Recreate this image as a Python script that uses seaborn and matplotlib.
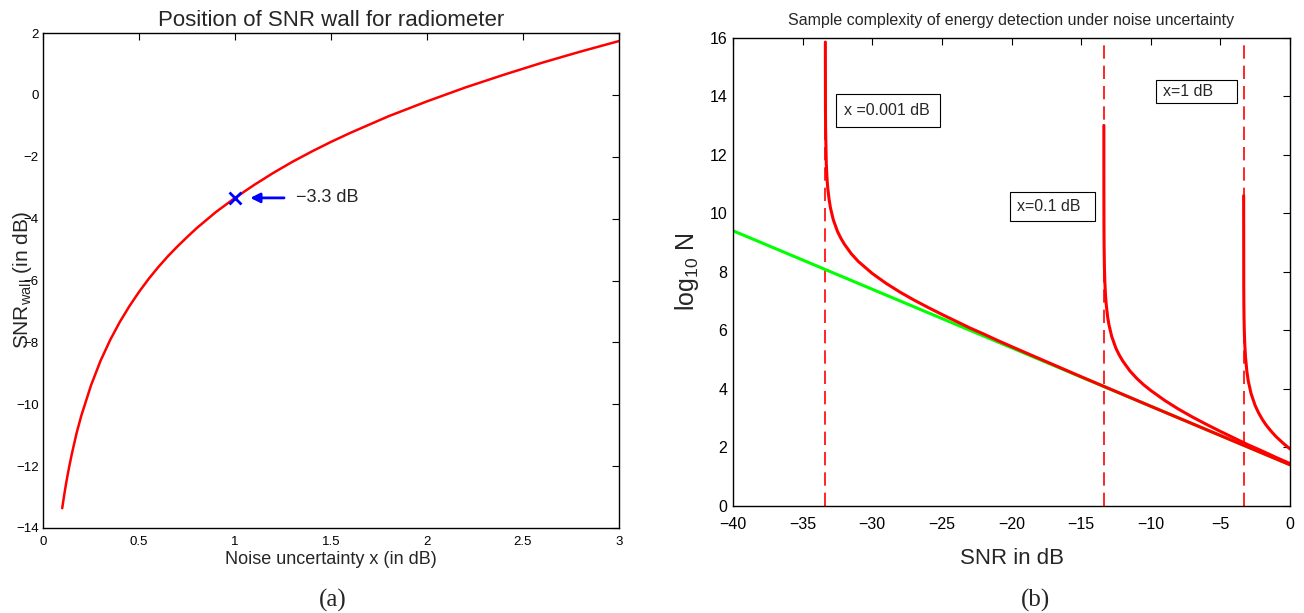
"""SNR wall position and sample complexity of the radiometer."""
import matplotlib

matplotlib.use("Agg")
import matplotlib.pyplot as plt
import pandas as pd
import seaborn as sns
from matplotlib.patches import Rectangle

# (a) SNR wall vs noise uncertainty
noise_db = [0.1, 0.11, 0.12, 0.13, 0.14, 0.15, 0.175, 0.2, 0.25, 0.3, 0.35, 0.4, 0.45,
            0.5, 0.55, 0.6, 0.65, 0.7, 0.75, 0.8, 0.9, 1.0, 1.1, 1.2, 1.3, 1.4, 1.5,
            1.6, 1.8, 2.0, 2.2, 2.4, 2.6, 2.8, 3.0]
snr_wall_db = [-13.36, -12.95, -12.57, -12.23, -11.91, -11.61, -10.93, -10.36, -9.39,
               -8.59, -7.92, -7.34, -6.83, -6.37, -5.95, -5.57, -5.22, -4.90, -4.60,
               -4.31, -3.79, -3.33, -2.91, -2.52, -2.16, -1.83, -1.52, -1.23, -0.69,
               -0.21, 0.24, 0.65, 1.04, 1.40, 1.74]
marker_pt = (1.0, -3.33)

# (b) log10 N vs SNR
ideal_snr = [-40, 0]
ideal_logn = [9.4, 1.4]

snr_x0001 = [-33.3668, -33.366, -33.36, -33.35, -33.3, -33.25, -33.2, -33.1, -33.0,
             -32.8, -32.5, -32.25, -32, -31.5, -31, -30, -29, -28, -27, -26, -25, -24,
             -23, -22, -21, -20, -15, -10, -5, 0]
logn_x0001 = [15.85, 15.35, 13.60, 12.87, 11.68, 11.20, 10.88, 10.47, 10.18, 9.78, 9.38,
              9.14, 8.94, 8.61, 8.35, 7.94, 7.60, 7.30, 7.03, 6.78, 6.54, 6.31, 6.08,
              5.87, 5.65, 5.44, 4.41, 3.40, 2.40, 1.40]

snr_x01 = [-13.367, -13.366, -13.365, -13.36, -13.35, -13.33, -13.3, -13.25, -13.2,
           -13.1, -13.0, -12.8, -12.5, -12.25, -12, -11.5, -11, -10.5, -10, -9, -8, -7,
           -6, -5, -4, -3, -2, -1, 0]
logn_x01 = [13.0, 11.19, 10.68, 9.64, 8.88, 8.20, 7.69, 7.20, 6.89, 6.47, 6.18, 5.78,
            5.38, 5.14, 4.94, 4.61, 4.35, 4.13, 3.94, 3.60, 3.30, 3.03, 2.78, 2.54, 2.31,
            2.08, 1.87, 1.65, 1.44]

snr_x1 = [-3.329, -3.32, -3.31, -3.3, -3.28, -3.25, -3.2, -3.1, -3.0, -2.8, -2.5, -2.25,
          -2.0, -1.75, -1.5, -1.25, -1.0, -0.75, -0.5, -0.25, 0]
logn_x1 = [10.6, 7.4, 6.77, 6.40, 5.95, 5.54, 5.11, 4.60, 4.27, 3.84, 3.42, 3.17, 2.96,
           2.78, 2.63, 2.49, 2.36, 2.25, 2.14, 2.04, 1.94]

walls_db = [-33.37, -13.37, -3.33]
box_labels = ["x =0.001 dB", "x=0.1 dB", "x=1 dB"]
# label boxes: x0, x1, y0, y1 in data units
box_extent = [(-32.6, -25.1, 12.95, 14.08), (-20.1, -14.0, 9.75, 10.72),
              (-9.6, -3.8, 13.78, 14.55)]

sns.set_style("white")
plt.rcParams["font.family"] = ["Liberation Sans", "DejaVu Sans"]
plt.rcParams["mathtext.fontset"] = "custom"
plt.rcParams["mathtext.rm"] = "Liberation Sans"
plt.rcParams["mathtext.it"] = "Liberation Sans"

W, H = 1304, 613
fig = plt.figure(figsize=(W / 100, H / 100), dpi=100)
# axes boxes in pixels: left, top, right, bottom
ax1 = fig.add_axes([43 / W, 1 - 528 / H, (619 - 43) / W, (528 - 33) / H])
ax2 = fig.add_axes([733 / W, 1 - 505.7 / H, (1290 - 733) / W, (505.7 - 37.7) / H])


def matlab_axes(ax, size, xpad, ypad):
    for sp in ax.spines.values():
        sp.set_color("black")
        sp.set_linewidth(1.0)
    ax.tick_params(direction="in", top=True, right=True, length=5, width=0.8,
                   labelsize=size, colors="black")
    ax.tick_params(axis="x", pad=xpad)
    ax.tick_params(axis="y", pad=ypad)


# ---- (a)
df_a = pd.DataFrame({"x": noise_db, "y": snr_wall_db})
sns.lineplot(data=df_a, x="x", y="y", color="red", linewidth=1.8, ax=ax1)
ax1.plot([marker_pt[0]], [marker_pt[1]], marker="x", color="blue", markersize=9,
         markeredgewidth=2, linestyle="none")
ax1.annotate("", xy=(1.065, -3.33), xytext=(1.27, -3.33),
             arrowprops=dict(arrowstyle="-|>", color="blue", lw=2, mutation_scale=14))
ax1.text(1.318, -3.33, "\u22123.3 dB", fontsize=13, va="center", ha="left")
ax1.set_xlim(0, 3)
ax1.set_ylim(-14, 2)
ax1.set_xticks([0, 0.5, 1, 1.5, 2, 2.5, 3])
ax1.set_xticklabels(["0", "0.5", "1", "1.5", "2", "2.5", "3"])
ax1.set_yticks(range(-14, 3, 2))
ax1.set_xlabel("Noise uncertainty x (in dB)", fontsize=13, labelpad=2)
ax1.set_ylabel("SNR$_{\\rm wall}$ (in dB)", fontsize=15, labelpad=-13)
ax1.set_title("Position of SNR wall for radiometer", fontsize=16, pad=5)
matlab_axes(ax1, 9.5, 6, 3)

# ---- (b)
for w in walls_db:
    ax2.axvline(w, color="red", linestyle=(0, (8, 4.2)), linewidth=1.2)
df_ideal = pd.DataFrame({"snr": ideal_snr, "logn": ideal_logn})
sns.lineplot(data=df_ideal, x="snr", y="logn", color="#00ff00", linewidth=2.2, ax=ax2)
for xs, ys in [(snr_x0001, logn_x0001), (snr_x01, logn_x01), (snr_x1, logn_x1)]:
    df = pd.DataFrame({"snr": xs, "logn": ys})
    sns.lineplot(data=df, x="snr", y="logn", color="red", linewidth=2.2, ax=ax2)
for lab, (x0, x1, y0, y1) in zip(box_labels, box_extent):
    ax2.add_patch(Rectangle((x0, y0), x1 - x0, y1 - y0, facecolor="white",
                            edgecolor="black", linewidth=0.8, zorder=4))
    ax2.text(x0 + 0.08 * (x1 - x0), (y0 + y1) / 2, lab, fontsize=11.5, ha="left",
             va="center", zorder=5)
ax2.set_xlim(-40, 0)
ax2.set_ylim(0, 16)
ax2.set_xticks(range(-40, 1, 5))
ax2.set_yticks(range(0, 17, 2))
ax2.set_xlabel("SNR in dB", fontsize=16, labelpad=12)
ax2.set_ylabel("log$_{10}$ N", fontsize=18, labelpad=6)
ax2.set_title("Sample complexity of energy detection under noise uncertainty",
              fontsize=11.5, pad=9)
matlab_axes(ax2, 11.5, 8, 4)

fig.text(333 / W, 1 - 600 / H, "(a)", fontsize=18, ha="center", va="center",
         family="Liberation Serif")
fig.text(1035 / W, 1 - 600 / H, "(b)", fontsize=18, ha="center", va="center",
         family="Liberation Serif")

fig.savefig("out.png", dpi=100)
